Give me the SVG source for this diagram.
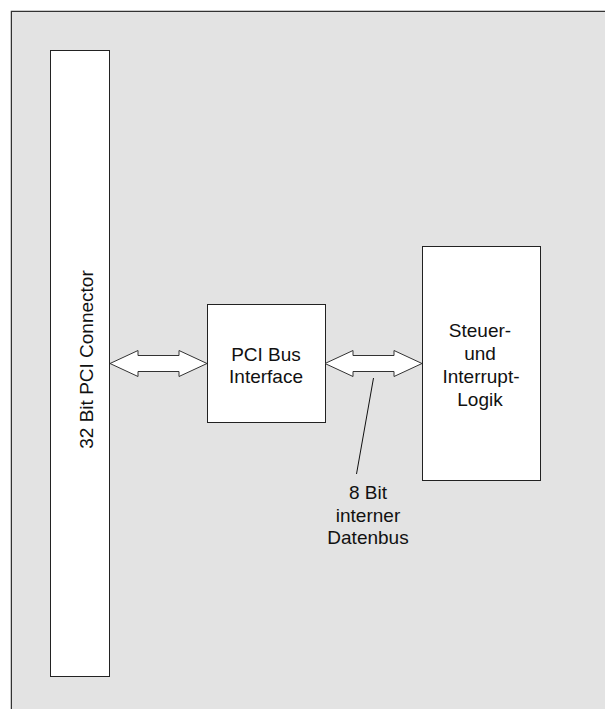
<svg xmlns="http://www.w3.org/2000/svg" width="605" height="709" viewBox="0 0 605 709">
<style>
.box{fill:#ffffff;stroke:#222222;stroke-width:1}
.arrow{fill:#ffffff;stroke:#333333;stroke-width:1}
.t{font-family:"Liberation Sans",Arial,sans-serif;font-size:19px;fill:#111111;text-anchor:middle}
</style>
<rect x="0" y="0" width="605" height="709" fill="#ffffff"/>
<path d="M11.5 709 V11.5 H605" fill="#e3e3e3" stroke="#333333" stroke-width="1.5"/>
<rect x="12" y="12" width="593" height="697" fill="#e3e3e3"/>
<g id="connector">
<rect class="box" x="50.5" y="50.5" width="59" height="626"/>
<text class="t" transform="translate(93 359.5) rotate(-90)">32 Bit PCI Connector</text>
</g>
<g id="pci-bus-interface">
<rect class="box" x="207.5" y="304.5" width="118" height="118"/>
<text class="t" x="266" y="360.5">PCI Bus</text>
<text class="t" x="266" y="383">Interface</text>
</g>
<g id="steuer">
<rect class="box" x="422.5" y="246.5" width="118" height="234"/>
<text class="t" x="480" y="337">Steuer-</text>
<text class="t" x="480" y="360">und</text>
<text class="t" x="481" y="383">Interrupt-</text>
<text class="t" x="480" y="405.5">Logik</text>
</g>
<g id="connectors">
<polygon class="arrow" points="110,363.5 138,350.5 138,355.5 179,355.5 179,350.5 207,363.5 179,376.5 179,371.5 138,371.5 138,376.5"/>
<polygon class="arrow" points="325,363.5 353,350.5 353,355.5 394,355.5 394,350.5 422,363.5 394,376.5 394,371.5 353,371.5 353,376.5"/>
<line x1="373.5" y1="378" x2="356.5" y2="474" stroke="#111111" stroke-width="1"/>
</g>
<g id="bus-label">
<text class="t" x="368" y="499">8 Bit</text>
<text class="t" x="368" y="521.5">interner</text>
<text class="t" x="368" y="544">Datenbus</text>
</g>
</svg>
